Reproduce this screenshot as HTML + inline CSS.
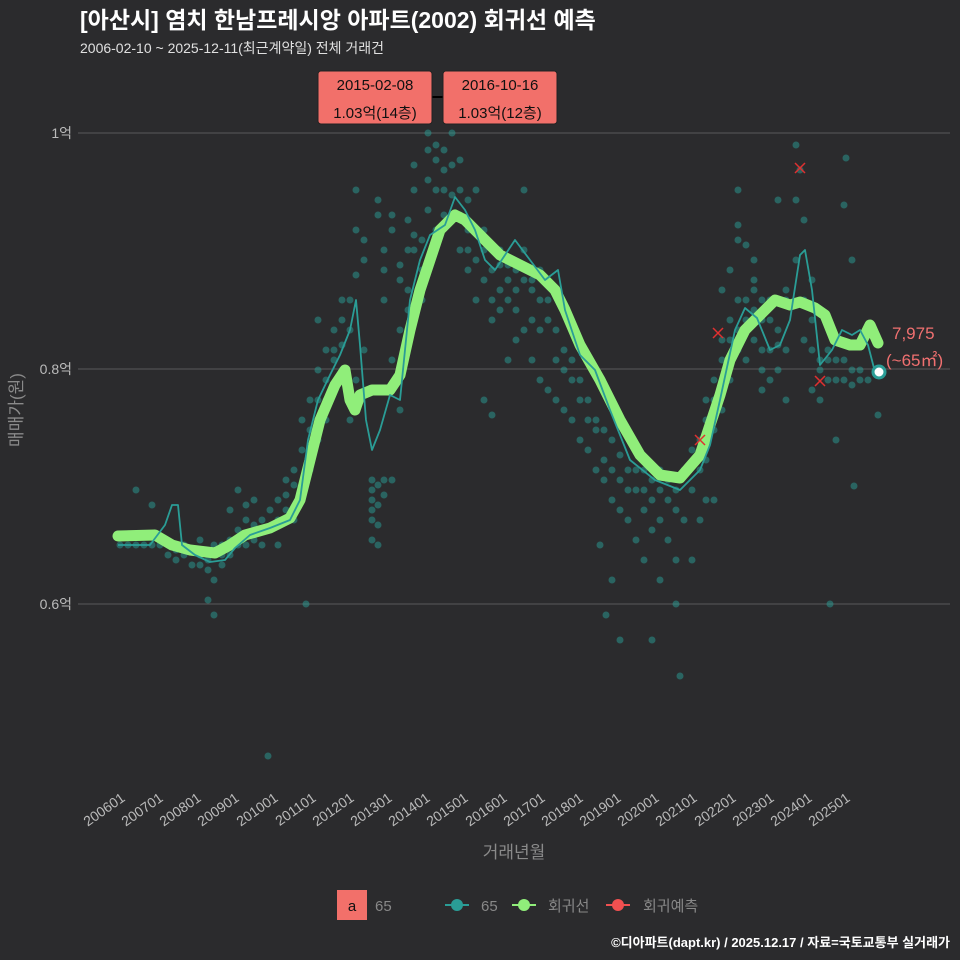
<!DOCTYPE html>
<html><head><meta charset="utf-8"><style>
body{margin:0;background:#2b2b2d;}
svg{display:block;font-family:"Liberation Sans","Noto Sans CJK KR",sans-serif;}
</style></head><body>
<svg width="960" height="960" xmlns="http://www.w3.org/2000/svg">
<rect width="960" height="960" fill="#2b2b2d"/>
<text x="80" y="28" font-size="23" font-weight="bold" fill="#ffffff">[아산시] 염치 한남프레시앙 아파트(2002) 회귀선 예측</text>
<text x="80" y="53" font-size="14" fill="#e0e0e0">2006-02-10 ~ 2025-12-11(최근계약일) 전체 거래건</text>
<g stroke="#5a5a5a" stroke-width="1">
<line x1="78" y1="133" x2="950" y2="133"/><line x1="78" y1="369" x2="950" y2="369"/><line x1="78" y1="604" x2="950" y2="604"/>
</g>
<g font-size="14" fill="#bbbbbb" text-anchor="end">
<text x="72" y="138">1억</text><text x="72" y="374">0.8억</text><text x="72" y="609">0.6억</text>
</g>
<text transform="translate(22,410) rotate(-90)" font-size="17" fill="#8a8a8a" text-anchor="middle">매매가(원)</text>
<text x="514" y="858" font-size="17" fill="#8a8a8a" text-anchor="middle">거래년월</text>
<g font-size="14" fill="#bbbbbb" text-anchor="end">
<text transform="translate(126,800) rotate(-35)">200601</text>
<text transform="translate(164,800) rotate(-35)">200701</text>
<text transform="translate(202,800) rotate(-35)">200801</text>
<text transform="translate(240,800) rotate(-35)">200901</text>
<text transform="translate(279,800) rotate(-35)">201001</text>
<text transform="translate(317,800) rotate(-35)">201101</text>
<text transform="translate(355,800) rotate(-35)">201201</text>
<text transform="translate(393,800) rotate(-35)">201301</text>
<text transform="translate(431,800) rotate(-35)">201401</text>
<text transform="translate(469,800) rotate(-35)">201501</text>
<text transform="translate(508,800) rotate(-35)">201601</text>
<text transform="translate(546,800) rotate(-35)">201701</text>
<text transform="translate(584,800) rotate(-35)">201801</text>
<text transform="translate(622,800) rotate(-35)">201901</text>
<text transform="translate(660,800) rotate(-35)">202001</text>
<text transform="translate(698,800) rotate(-35)">202101</text>
<text transform="translate(737,800) rotate(-35)">202201</text>
<text transform="translate(775,800) rotate(-35)">202301</text>
<text transform="translate(813,800) rotate(-35)">202401</text>
<text transform="translate(851,800) rotate(-35)">202501</text>
</g>
<path stroke="#2a9d96" stroke-opacity="0.5" stroke-width="7" stroke-linecap="round" fill="none" d="
M120 545h0M128 545h0M128 536h0M136 545h0M136 490h0M144 545h0M144 536h0M152 545h0M152 505h0M160 536h0M160 545h0
M168 545h0M168 555h0M176 550h0M176 560h0M184 545h0M184 555h0M192 550h0M192 565h0M200 555h0M200 565h0M200 540h0
M208 560h0M208 570h0M208 600h0M214 580h0M214 615h0M214 545h0M222 555h0M222 565h0M222 545h0M230 540h0M230 555h0M230 510h0
M238 530h0M238 545h0M238 490h0M246 520h0M246 545h0M246 505h0M254 525h0M254 540h0M254 500h0M262 520h0M262 530h0M262 545h0
M268 756h0M270 510h0M270 530h0M278 500h0M278 520h0M278 545h0M286 495h0M286 510h0M286 480h0M294 470h0M294 520h0M294 485h0
M302 450h0M302 500h0M302 420h0M306 604h0M310 430h0M310 470h0M310 400h0M318 400h0M318 440h0M318 370h0M318 320h0
M326 380h0M326 400h0M326 350h0M326 420h0M334 350h0M334 360h0M334 390h0M334 330h0M342 345h0M342 370h0M342 320h0M342 300h0
M350 300h0M350 330h0M350 400h0M350 420h0M356 190h0M356 230h0M356 275h0M356 380h0M364 240h0M364 260h0M364 350h0
M372 480h0M372 500h0M372 520h0M372 540h0M372 490h0M372 510h0M378 485h0M378 505h0M378 525h0M378 545h0M378 200h0M378 215h0
M384 480h0M384 495h0M384 300h0M384 270h0M384 250h0M392 215h0M392 230h0M392 360h0M392 390h0M392 480h0
M400 265h0M400 280h0M400 330h0M400 410h0M408 220h0M408 250h0M408 290h0M408 310h0M414 165h0M414 190h0M414 235h0M414 250h0
M422 240h0M422 270h0M422 300h0M428 133h0M428 150h0M428 180h0M428 210h0M436 145h0M436 160h0M436 190h0M436 230h0
M444 150h0M444 170h0M444 190h0M444 215h0M452 133h0M452 165h0M452 195h0M452 220h0M460 160h0M460 190h0M460 215h0M460 250h0
M468 200h0M468 230h0M468 250h0M468 270h0M476 190h0M476 230h0M476 260h0M476 300h0M484 230h0M484 250h0M484 280h0M484 400h0
M492 270h0M492 300h0M492 320h0M492 415h0M500 250h0M500 265h0M500 290h0M500 310h0M508 265h0M508 280h0M508 300h0M508 360h0
M516 270h0M516 290h0M516 310h0M516 340h0M524 190h0M524 250h0M524 280h0M524 330h0M532 280h0M532 290h0M532 320h0M532 360h0
M540 270h0M540 300h0M540 330h0M540 380h0M548 300h0M548 320h0M548 390h0M556 330h0M556 360h0M556 400h0M564 350h0M564 370h0M564 410h0
M572 360h0M572 380h0M572 420h0M580 380h0M580 400h0M580 440h0M588 400h0M588 420h0M588 450h0M596 420h0M596 430h0M596 470h0M600 545h0
M604 430h0M604 460h0M604 480h0M606 615h0M612 440h0M612 470h0M612 500h0M612 580h0M620 455h0M620 480h0M620 510h0M620 640h0
M628 470h0M628 490h0M628 520h0M636 470h0M636 490h0M636 540h0M644 470h0M644 490h0M644 510h0M644 560h0M652 480h0M652 500h0M652 530h0M652 640h0
M660 470h0M660 490h0M660 520h0M660 580h0M668 480h0M668 500h0M668 540h0M676 490h0M676 510h0M676 560h0M676 604h0M680 676h0
M684 470h0M684 520h0M692 450h0M692 490h0M692 560h0M700 440h0M700 470h0M700 520h0M706 400h0M706 420h0M706 460h0M706 500h0
M714 380h0M714 400h0M714 430h0M714 500h0M722 340h0M722 360h0M722 410h0M722 290h0M730 320h0M730 340h0M730 380h0M730 270h0
M738 300h0M738 330h0M738 350h0M738 225h0M738 190h0M738 240h0M746 300h0M746 320h0M746 360h0M746 245h0
M754 290h0M754 310h0M754 340h0M754 260h0M754 280h0M762 320h0M762 350h0M762 370h0M762 390h0M762 300h0
M770 300h0M770 320h0M770 350h0M770 380h0M778 330h0M778 345h0M778 370h0M778 200h0M786 290h0M786 300h0M786 350h0M786 400h0
M796 145h0M796 200h0M796 260h0M800 170h0M804 220h0M804 300h0M804 340h0M812 280h0M812 320h0M812 350h0M812 390h0
M820 360h0M820 370h0M820 400h0M828 350h0M828 360h0M828 380h0M830 604h0M836 360h0M836 380h0M836 440h0
M844 205h0M844 360h0M844 380h0M846 158h0M852 260h0M852 370h0M852 385h0M854 486h0M860 370h0M860 380h0M868 380h0M878 415h0"/>
<polyline fill="none" stroke="#90ee7a" stroke-width="11" stroke-linecap="round" stroke-linejoin="round" points="118,536 155,535 172,545 190,550 215,553 230,545 245,535 270,528 290,518 300,500 310,460 320,420 335,385 345,370 350,400 355,410 360,395 372,390 390,390 400,375 410,330 420,290 430,260 440,230 455,215 465,220 480,235 500,255 520,265 540,275 555,290 565,310 580,345 600,380 620,420 640,455 660,475 680,478 700,455 710,425 720,395 730,360 745,330 760,315 775,300 790,305 800,302 815,308 825,315 835,340 850,345 860,345 870,325 878,343"/>
<polyline fill="none" stroke="#2a9d96" stroke-width="1.8" stroke-linejoin="round" points="118,545 150,545 165,525 172,505 178,505 182,545 195,555 210,562 225,560 235,548 250,535 270,528 290,520 300,500 308,440 318,400 330,375 340,355 350,330 356,300 360,345 366,420 372,450 380,430 390,395 400,400 410,300 420,260 430,235 445,225 455,197 465,210 475,230 485,260 495,270 505,255 515,240 530,260 545,280 558,270 565,310 580,355 595,370 610,410 630,460 655,480 680,490 700,470 710,445 720,400 735,330 745,308 757,318 770,350 780,345 790,320 800,255 805,250 812,290 820,365 832,350 842,330 852,335 860,330 868,345 875,372"/>
<g stroke="#e03030" stroke-width="1.5">
<path d="M713 328l10 10M713 338l10 -10M795 163l10 10M795 173l10 -10M815 376l10 10M815 386l10 -10M695 435l10 10M695 445l10 -10"/>
</g>
<circle cx="879" cy="372" r="6" fill="#ffffff" stroke="#2a9d96" stroke-width="3"/>
<text x="892" y="339" font-size="17" fill="#f07070">7,975</text>
<text x="886" y="366" font-size="17" fill="#f07070">(~65㎡)</text>
<line x1="432" y1="97" x2="446" y2="97" stroke="#000" stroke-width="2"/>
<rect x="318" y="71" width="114" height="53" rx="3" fill="#f2706a" stroke="#222"/>
<rect x="443" y="71" width="114" height="53" rx="3" fill="#f2706a" stroke="#222"/>
<g font-size="15" fill="#111" text-anchor="middle">
<text x="375" y="90">2015-02-08</text><text x="375" y="118">1.03억(14층)</text>
<text x="500" y="90">2016-10-16</text><text x="500" y="118">1.03억(12층)</text>
</g>
<rect x="337" y="890" width="30" height="30" fill="#f2706a"/>
<text x="352" y="911" font-size="15" fill="#111" text-anchor="middle">a</text>
<text x="375" y="911" font-size="15" fill="#888">65</text>
<g stroke-width="2">
<line x1="445" y1="905" x2="469" y2="905" stroke="#2a9d96"/><circle cx="457" cy="905" r="6" fill="#2a9d96"/>
<line x1="512" y1="905" x2="536" y2="905" stroke="#90ee7a"/><circle cx="524" cy="905" r="6" fill="#90ee7a"/>
<line x1="606" y1="905" x2="630" y2="905" stroke="#f05050"/><circle cx="618" cy="905" r="6" fill="#f05050"/>
</g>
<g font-size="15" fill="#888"><text x="481" y="911">65</text><text x="548" y="911">회귀선</text><text x="643" y="911">회귀예측</text></g>
<text x="950" y="947" font-size="13" font-weight="bold" fill="#ffffff" text-anchor="end">©디아파트(dapt.kr) / 2025.12.17 / 자료=국토교통부 실거래가</text>
</svg>
</body></html>
